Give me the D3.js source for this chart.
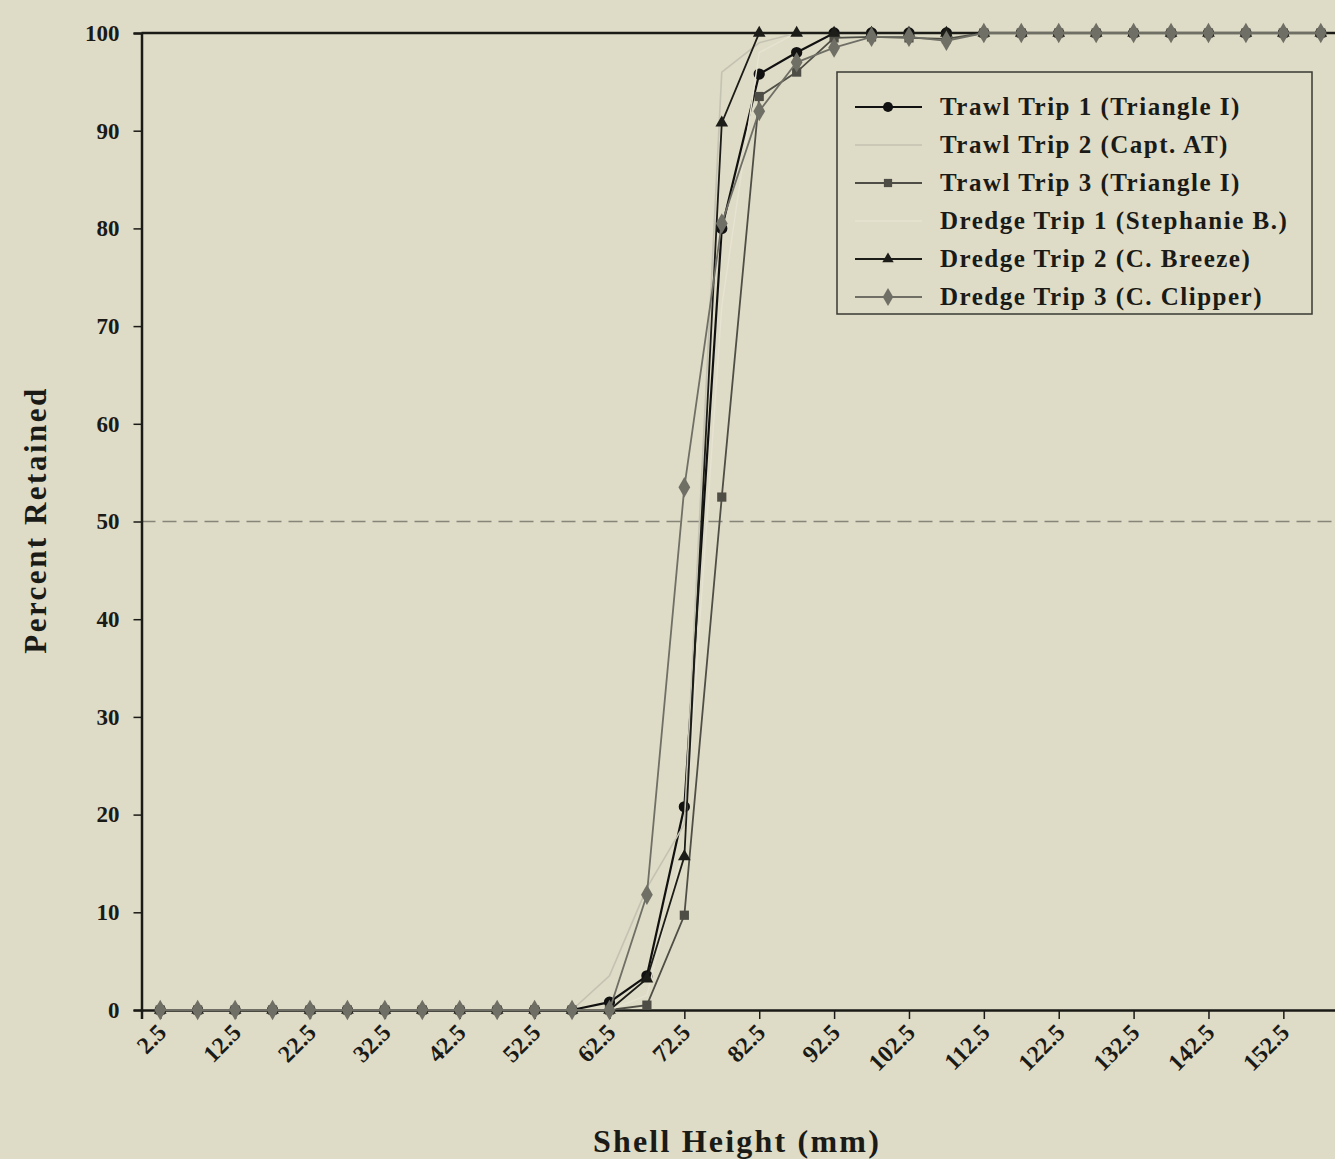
<html>
  <head>
    <meta charset="utf-8" />
    <script src="https://d3js.org/d3.v7.min.js"></script>
  </head>
  <style>
    body { margin: 0; background: #dedbc6; }
    svg { display: block; }
    text { font-family: "Liberation Serif", "Times New Roman", serif; font-weight: bold; fill: #1a1a16; }
  </style>
  <body>
    <div id="viz"><svg></svg></div>
    <script>
      // shell height classes (mm)
      var shellHeight = [2.5, 7.5, 12.5, 17.5, 22.5, 27.5, 32.5, 37.5, 42.5, 47.5, 52.5, 57.5,
        62.5, 67.5, 72.5, 77.5, 82.5, 87.5, 92.5, 97.5, 102.5, 107.5,
        112.5, 117.5, 122.5, 127.5, 132.5, 137.5, 142.5, 147.5, 152.5, 157.5];
      var tickLabels = [2.5, 12.5, 22.5, 32.5, 42.5, 52.5, 62.5, 72.5, 82.5, 92.5, 102.5, 112.5, 122.5, 132.5, 142.5, 152.5];
      var yTicks = [0, 10, 20, 30, 40, 50, 60, 70, 80, 90, 100];

      var trawl1 = [0,0,0,0,0,0,0,0,0,0,0,0, 0.8, 3.5, 20.8, 80, 95.8, 98, 100, 100, 100, 100,
        100,100,100,100,100,100,100,100,100,100];
      var trawl2 = [0,0,0,0,0,0,0,0,0,0,0,0, 3.5, 12.5, 19, 96, 99, 100, 100, 100, 100, 100,
        100,100,100,100,100,100,100,100,100,100];
      var trawl3 = [0,0,0,0,0,0,0,0,0,0,0,0, 0, 0.5, 9.7, 52.5, 93.5, 96, 99.5, 99.6, 99.5, 99.4,
        100,100,100,100,100,100,100,100,100,100];
      var dredge1 = [0,0,0,0,0,0,0,0,0,0,0,0, 0, 1.5, 17, 72, 98, 100, 100, 100, 100, 100,
        100,100,100,100,100,100,100,100,100,100];
      var dredge2 = [0,0,0,0,0,0,0,0,0,0,0,0, 0, 3.2, 15.7, 90.8, 100, 100, 100, 100, 100, 100,
        100,100,100,100,100,100,100,100,100,100];
      var dredge3 = [0,0,0,0,0,0,0,0,0,0,0,0, 0, 11.8, 53.5, 80.5, 92, 97, 98.5, 99.6, 99.6, 99.2,
        100,100,100,100,100,100,100,100,100,100];

      var series = [
        { name: "Trawl Trip 1 (Triangle I)", values: trawl1, color: "#111111", width: 2.2, symbol: d3.symbolCircle, size: 100, fill: "#111111" },
        { name: "Trawl Trip 2 (Capt. AT)", values: trawl2, color: "#c4c2b2", width: 1.6, symbol: null },
        { name: "Trawl Trip 3 (Triangle I)", values: trawl3, color: "#4e4e46", width: 1.8, symbol: d3.symbolSquare, size: 85, fill: "#4e4e46" },
        { name: "Dredge Trip 1 (Stephanie B.)", values: dredge1, color: "#e6e3d2", width: 1.4, symbol: null },
        { name: "Dredge Trip 2 (C. Breeze)", values: dredge2, color: "#1c1c18", width: 1.8, symbol: d3.symbolTriangle, size: 70, fill: "#1c1c18" },
        { name: "Dredge Trip 3 (C. Clipper)", values: dredge3, color: "#6f6f66", width: 1.8, symbol: d3.symbolDiamond, size: 120, fill: "#6f6f66" }
      ];

      var svg = d3.select("svg").attr("width", 1335).attr("height", 1159);

      var x = d3.scaleLinear().domain([0, 160]).range([141.5, 1339.5]);
      var y = d3.scaleLinear().domain([0, 100]).range([1010, 33]);

      // plot frame (top edge)
      svg.append("line")
        .attr("x1", x(0)).attr("x2", x(160))
        .attr("y1", y(100)).attr("y2", y(100))
        .style("stroke", "#1a1a16").style("stroke-width", 2.5);

      // 50% reference line
      svg.append("line")
        .attr("x1", x(0)).attr("x2", x(160))
        .attr("y1", y(50)).attr("y2", y(50))
        .style("stroke", "#86857a").style("stroke-width", 1.5)
        .style("stroke-dasharray", "14,7");

      // axes
      var xAxis = svg.append("g")
        .attr("transform", "translate(0," + y(0) + ")")
        .call(d3.axisBottom(x).tickValues(tickLabels).tickSize(9).tickFormat(d3.format(".1f")));
      xAxis.selectAll("text")
        .attr("x", 0).attr("y", 0).attr("dy", 0)
        .attr("transform", "translate(7,24) rotate(-45)")
        .style("text-anchor", "end")
        .style("font-size", "24px");

      var yAxis = svg.append("g")
        .attr("transform", "translate(" + x(0) + ",0)")
        .call(d3.axisLeft(y).tickValues(yTicks).tickSize(8).tickPadding(14));
      yAxis.selectAll("text").style("font-size", "23px");

      svg.selectAll(".domain, .tick line").style("stroke", "#1a1a16").style("stroke-width", 2.5);
      svg.selectAll(".tick line").style("stroke-width", 1.5);
      svg.selectAll(".tick text").style("font-family", "'Liberation Serif', serif").style("font-weight", "bold").attr("fill", "#1a1a16");

      // series lines and markers
      var line = d3.line()
        .x(function (d, i) { return x(shellHeight[i]); })
        .y(function (d) { return y(d); });

      series.forEach(function (s) {
        svg.append("path")
          .datum(s.values)
          .attr("d", line)
          .style("fill", "none")
          .style("stroke", s.color)
          .style("stroke-width", s.width);
        if (s.symbol) {
          svg.append("g").selectAll("path")
            .data(s.values)
            .enter()
            .append("path")
            .attr("d", d3.symbol().type(s.symbol).size(s.size))
            .attr("transform", function (d, i) { return "translate(" + x(shellHeight[i]) + "," + y(d) + ")"; })
            .style("fill", s.fill);
        }
      });

      // legend
      var legend = svg.append("g").attr("transform", "translate(837,72)");
      legend.append("rect")
        .attr("width", 475).attr("height", 242)
        .style("fill", "#dedbc6")
        .style("stroke", "#3a3a34").style("stroke-width", 1.5);

      series.forEach(function (s, i) {
        var row = legend.append("g").attr("transform", "translate(0," + (35 + i * 38) + ")");
        row.append("line")
          .attr("x1", 18).attr("x2", 85)
          .style("stroke", s.color).style("stroke-width", s.width);
        if (s.symbol) {
          row.append("path")
            .attr("d", d3.symbol().type(s.symbol).size(s.size * 0.8))
            .attr("transform", "translate(51,0)")
            .style("fill", s.fill);
        }
        row.append("text")
          .attr("x", 103).attr("y", 8)
          .style("font-size", "25px")
          .style("letter-spacing", "1.5px")
          .text(s.name);
      });

      // axis titles
      svg.append("text")
        .attr("x", 737).attr("y", 1152)
        .style("text-anchor", "middle")
        .style("font-size", "32px")
        .style("letter-spacing", "2.2px")
        .text("Shell Height (mm)");

      svg.append("text")
        .attr("transform", "translate(46,520) rotate(-90)")
        .style("text-anchor", "middle")
        .style("font-size", "31px")
        .style("letter-spacing", "2.5px")
        .text("Percent Retained");
    </script>
  </body>
</html>
